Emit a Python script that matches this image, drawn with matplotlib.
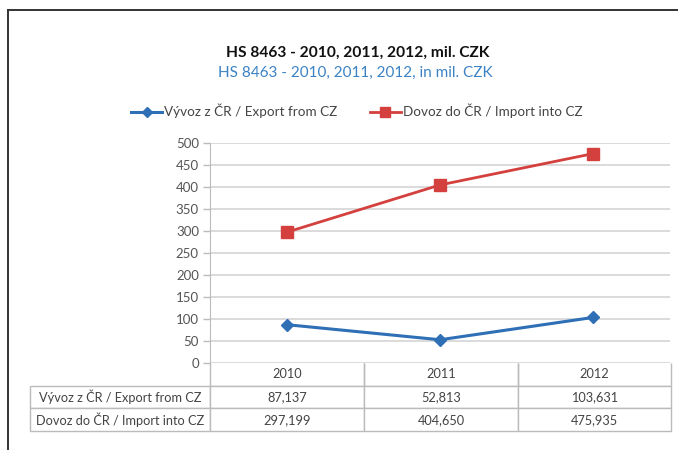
import matplotlib
matplotlib.use("Agg")
import matplotlib.pyplot as plt
from matplotlib.lines import Line2D

plt.rcParams['font.family'] = ['Lato', 'DejaVu Sans']

years = ["2010", "2011", "2012"]
export_vals = [87.137, 52.813, 103.631]
import_vals = [297.199, 404.650, 475.935]
series_names = ["Vývoz z ČR / Export from CZ", "Dovoz do ČR / Import into CZ"]
title1 = "HS 8463 - 2010, 2011, 2012, mil. CZK"
title2 = "HS 8463 - 2010, 2011, 2012, in mil. CZK"
yticks = [0, 50, 100, 150, 200, 250, 300, 350, 400, 450, 500]

blue = "#2F6FB5"
red = "#D4403E"
W, H = 678, 450
fig = plt.figure(figsize=(W / 100, H / 100), dpi=100)

# outer frame (left and top visible)
fig.add_artist(Line2D([8 / W, 8 / W], [0, 1 - 10 / H], transform=fig.transFigure, color="#333333", lw=1.4))
fig.add_artist(Line2D([8 / W, 1], [1 - 10 / H, 1 - 10 / H], transform=fig.transFigure, color="#333333", lw=1.4))

L, R, T, B = 210, 670, 143, 363
ax = fig.add_axes([L / W, 1 - B / H, (R - L) / W, (B - T) / H])
x = list(range(len(years)))
ax.plot(x, export_vals, color=blue, lw=2.2, marker="D", ms=6, mfc=blue, mec=blue)
ax.plot(x, import_vals, color=red, lw=2.0, marker="s", ms=8, mfc=red, mec=red)
ax.set_xlim(-0.5, 2.5)
ax.set_ylim(0, 500)
ax.set_yticks(yticks)
ax.set_xticks([])
ax.grid(axis="y", color="#D4D4D4", lw=1.2)
ax.set_axisbelow(True)
for s in ["top", "right", "bottom"]:
    ax.spines[s].set_visible(False)
ax.spines["left"].set_color("#BBBBBB")
ax.tick_params(axis="y", colors="#BBBBBB", labelcolor="#555555", labelsize=9.5, length=5, width=1, pad=3)

# table
cells = [[""] + years,
         [series_names[0]] + [f"{v:.3f}".replace(".", ",") for v in export_vals],
         [series_names[1]] + [f"{v:.3f}".replace(".", ",") for v in import_vals]]
tx0, tx1, ty1 = 30, 671, 431
tab = ax.table(cellText=cells,
               colWidths=[180, 154, 154, 153],
               bbox=[(tx0 - L) / (R - L), -(ty1 - B) / (B - T), (tx1 - tx0) / (R - L), (ty1 - B) / (B - T)],
               cellLoc="center")
tab.auto_set_font_size(False)
for (r, c), cell in tab.get_celld().items():
    cell.set_edgecolor("#BBBBBB")
    cell.set_linewidth(1.0)
    cell.get_text().set_fontsize(9.2)
    cell.get_text().set_color("#444444")
    if c == 0:
        cell.PAD = 0.01
    if r == 0 and c == 0:
        cell.visible_edges = ""
    elif r == 0:
        cell.visible_edges = "LRB"
tab[1, 0]._loc = "left"
tab[2, 0]._loc = "left"

# titles
fig.text(358 / W, 1 - 53 / H, title1, ha="center", va="center", fontsize=11.2, fontweight="bold", color="#111111")
fig.text(355 / W, 1 - 73 / H, title2, ha="center", va="center", fontsize=11, color="#3B82C4")

# legend
h1 = Line2D([], [], color=blue, lw=2.2, marker="D", ms=5)
h2 = Line2D([], [], color=red, lw=2.0, marker="s", ms=7)
fig.legend([h1, h2], series_names, loc="center", bbox_to_anchor=(357 / W, 1 - 111 / H),
           ncol=2, frameon=False, fontsize=9.7, handlelength=2.3, columnspacing=2.4,
           handletextpad=0.15, labelcolor="#444444")

fig.savefig("out.png", dpi=100)
